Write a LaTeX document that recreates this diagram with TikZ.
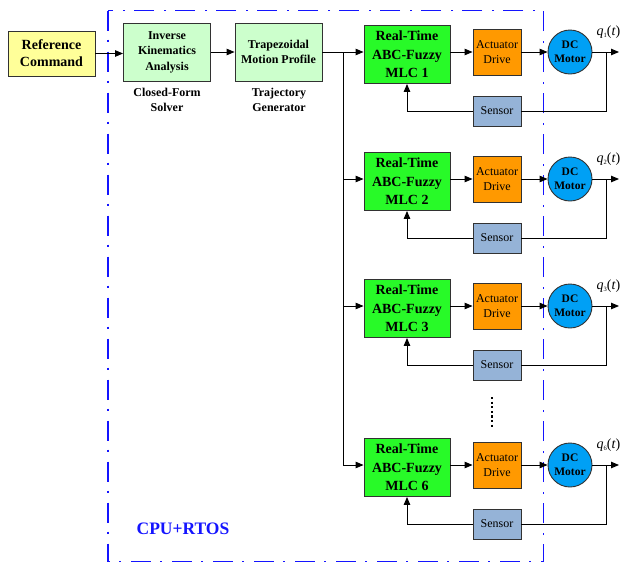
\documentclass[tikz,border=0pt]{standalone}
\usepackage{fontspec}
\setmainfont{Liberation Serif}
\usetikzlibrary{arrows.meta,calc}
\definecolor{refyellow}{HTML}{FFFF99}
\definecolor{lightgreen}{HTML}{CCFFCC}
\definecolor{mlcgreen}{RGB}{40,250,40}
\definecolor{actorange}{HTML}{FF9900}
\definecolor{motorblue}{RGB}{0,160,245}
\definecolor{sensorblue}{RGB}{149,179,215}
\definecolor{framebl}{RGB}{20,20,255}
\definecolor{edgegray}{RGB}{50,50,50}
\tikzset{
  box/.style={draw=edgegray, line width=0.9pt, inner sep=0pt, align=center},
  refbox/.style={box, fill=refyellow, minimum width=87pt, minimum height=45pt, font=\fontsize{14}{17}\selectfont\bfseries},
  procbox/.style={box, fill=lightgreen, minimum width=87pt, minimum height=58pt, font=\fontsize{12}{15.5}\selectfont\bfseries},
  mlcbox/.style={box, fill=mlcgreen, minimum width=86pt, minimum height=58pt, font=\fontsize{14}{18.5}\selectfont\bfseries},
  actbox/.style={box, fill=actorange, minimum width=48pt, minimum height=46pt, font=\fontsize{12}{15.5}\selectfont},
  motor/.style={draw=edgegray, line width=0.9pt, circle, fill=motorblue, minimum size=44pt, inner sep=0pt, align=center, font=\fontsize{11.5}{14}\selectfont\bfseries},
  sensbox/.style={box, fill=sensorblue, minimum width=48pt, minimum height=30pt, font=\fontsize{12}{14}\selectfont},
  caption/.style={align=center, font=\fontsize{12}{15}\selectfont\bfseries},
  conn/.style={line width=0.9pt, draw=black},
  arr/.style={conn, -{Triangle[length=8pt,width=6.5pt]}},
  frame/.style={draw=framebl, line width=1.6pt, dash pattern=on 20pt off 9pt on 2pt off 10pt},
}
\begin{document}
\begin{tikzpicture}[x=1pt,y=-1pt]
\useasboundingbox (0,0) rectangle (622,563);
% frame
\draw[frame] (108,10.5) rectangle (543.5,561.5);
\node[font=\fontsize{17.5}{20}\selectfont\bfseries, text=framebl] (cpu) at (183,529) {CPU+RTOS};
% top chain
\node[refbox] (ref) at (51.5,53.5) {Reference\\Command};
\node[procbox] (ik) at (167,52) {Inverse\\Kinematics\\Analysis};
\node[procbox] (trap) at (278.5,52) {Trapezoidal\\Motion Profile};
\node[caption] (cfs) at (167,100) {Closed-Form\\Solver};
\node[caption] (tg) at (279,99.5) {Trajectory\\Generator};
\draw[arr] (ref.east) -- (ik.west |- ref.east);
\draw[arr] (ik.east) -- (trap.west);
\coordinate (j1) at (343,52);
\coordinate (j2) at (343,179);
\coordinate (j3) at (343,306);
\coordinate (j6) at (343,465);
\draw[conn] (trap.east) -- (j1);
\draw[conn] (j1) -- (j6);
% rows
\foreach \i/\r in {1/52,2/179,3/306,6/465}{
  \node[mlcbox] (m\i) at (407,\r+2.5) {Real-Time\\ABC-Fuzzy\\MLC \i};
  \node[actbox] (a\i) at (497,\r) {Actuator\\Drive};
  \node[motor] (d\i) at (570,\r) {DC\\Motor};
  \node[sensbox] (s\i) at (497,\r+59) {Sensor};
  \coordinate (o\i) at (619,\r);
  \coordinate (t\i) at (606,\r);
  \node[font=\fontsize{14}{16}\selectfont, inner sep=0pt] (q\i) at (608.5,\r-20) {\textit{q}\raisebox{-2.5pt}{\fontsize{6.5}{7}\selectfont\i}(\textit{t})};
  \draw[arr] (j\i) -- (m\i.west |- j\i);
  \draw[arr] (m\i.east |- a\i.west) -- (a\i.west);
  \draw[arr] (a\i.east) -- (d\i.west);
  \draw[arr] (d\i.east) -- (o\i);
  \draw[conn] (t\i) |- (s\i.east);
  \draw[arr] (s\i.west) -| (m\i.south);
}
% dots
\coordinate (dotA) at (492,397);
\coordinate (dotB) at (492,429);
\draw[line width=2.2pt, dash pattern=on 2.2pt off 2.4pt] (dotA) -- (dotB);
\end{tikzpicture}
\end{document}
